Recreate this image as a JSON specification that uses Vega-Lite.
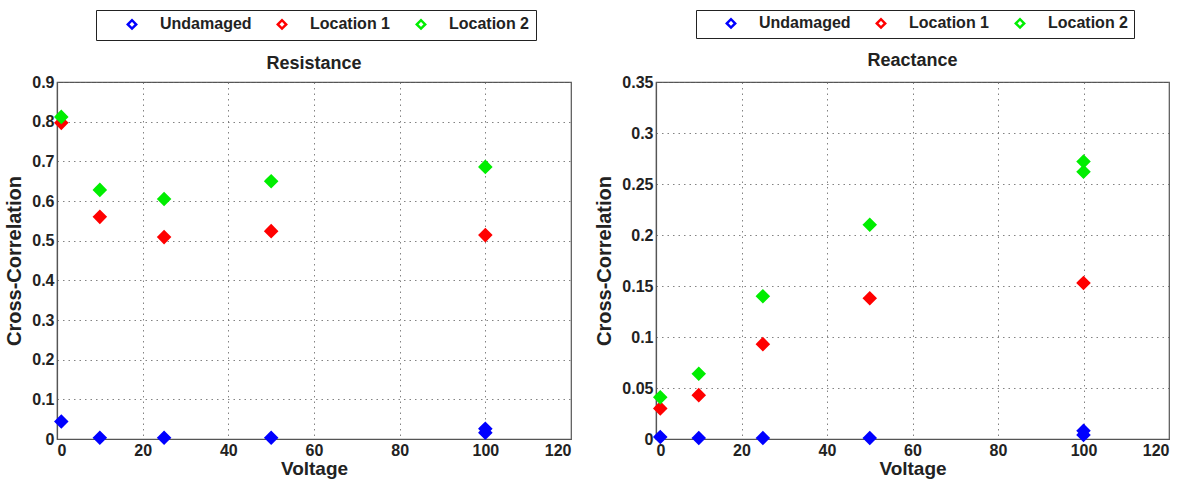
{
  "$schema": "https://vega.github.io/schema/vega-lite/v6.json",
  "background": "white",
  "padding": {"left": 4, "top": 8, "right": 2, "bottom": 2},
  "spacing": 22,
  "config": {
    "font": "Liberation Sans",
    "view": {"stroke": "#555555", "strokeWidth": 1.2},
    "axis": {
      "labelFont": "Liberation Sans",
      "labelFontWeight": "bold",
      "labelFontSize": 16,
      "labelColor": "#222222",
      "titleFont": "Liberation Sans",
      "titleFontWeight": "bold",
      "titleFontSize": 20,
      "titleColor": "#222222",
      "domainColor": "#555555",
      "domainWidth": 1.2,
      "ticks": false,
      "gridColor": "#666666",
      "gridDash": [1.5, 4],
      "gridWidth": 0.9,
      "gridOpacity": 0.9
    },
    "title": {"font": "Liberation Sans", "fontWeight": "bold", "fontSize": 18, "color": "#222222", "frame": "group", "anchor": "middle"}
  },
  "datasets": {
    "res": [
      {"voltage": 1, "series": "Undamaged", "cc": 0.044},
      {"voltage": 10, "series": "Undamaged", "cc": 0.003},
      {"voltage": 25, "series": "Undamaged", "cc": 0.003},
      {"voltage": 50, "series": "Undamaged", "cc": 0.003},
      {"voltage": 100, "series": "Undamaged", "cc": 0.016},
      {"voltage": 100, "series": "Undamaged", "cc": 0.026},
      {"voltage": 1, "series": "Location 1", "cc": 0.797},
      {"voltage": 10, "series": "Location 1", "cc": 0.56},
      {"voltage": 25, "series": "Location 1", "cc": 0.509},
      {"voltage": 50, "series": "Location 1", "cc": 0.524},
      {"voltage": 100, "series": "Location 1", "cc": 0.514},
      {"voltage": 1, "series": "Location 2", "cc": 0.812},
      {"voltage": 10, "series": "Location 2", "cc": 0.628},
      {"voltage": 25, "series": "Location 2", "cc": 0.605},
      {"voltage": 50, "series": "Location 2", "cc": 0.65},
      {"voltage": 100, "series": "Location 2", "cc": 0.686}
    ],
    "rea": [
      {"voltage": 1, "series": "Undamaged", "cc": 0.002},
      {"voltage": 10, "series": "Undamaged", "cc": 0.001},
      {"voltage": 25, "series": "Undamaged", "cc": 0.001},
      {"voltage": 50, "series": "Undamaged", "cc": 0.001},
      {"voltage": 100, "series": "Undamaged", "cc": 0.004},
      {"voltage": 100, "series": "Undamaged", "cc": 0.008},
      {"voltage": 1, "series": "Location 1", "cc": 0.03},
      {"voltage": 10, "series": "Location 1", "cc": 0.043},
      {"voltage": 25, "series": "Location 1", "cc": 0.093},
      {"voltage": 50, "series": "Location 1", "cc": 0.138},
      {"voltage": 100, "series": "Location 1", "cc": 0.153},
      {"voltage": 1, "series": "Location 2", "cc": 0.041},
      {"voltage": 10, "series": "Location 2", "cc": 0.064},
      {"voltage": 25, "series": "Location 2", "cc": 0.14},
      {"voltage": 50, "series": "Location 2", "cc": 0.21},
      {"voltage": 100, "series": "Location 2", "cc": 0.262},
      {"voltage": 100, "series": "Location 2", "cc": 0.272}
    ]
  },
  "hconcat": [
    {
      "title": {"text": "Resistance", "offset": -63},
      "width": 514,
      "height": 357,
      "data": {"name": "res"},
      "mark": {"type": "point", "shape": "diamond", "filled": false, "size": 52, "strokeWidth": 5.2, "opacity": 1},
      "encoding": {
        "x": {"field": "voltage", "type": "quantitative", "title": "Voltage", "scale": {"domain": [0, 120]}, "axis": {"values": [0, 20, 40, 60, 80, 100, 120], "labelPadding": 3, "titlePadding": 1, "titleFontSize": 19}},
        "y": {"field": "cc", "type": "quantitative", "title": "Cross-Correlation", "scale": {"domain": [0, 0.9]}, "axis": {"values": [0, 0.1, 0.2, 0.3, 0.4, 0.5, 0.6, 0.7, 0.8, 0.9], "format": "~g", "labelPadding": 3, "titlePadding": 7}},
        "color": {"field": "series", "type": "nominal", "scale": {"domain": ["Undamaged", "Location 1", "Location 2"], "range": ["#0000ff", "#ff0000", "#00ee00"]},
          "legend": {"orient": "none", "legendX": 39, "legendY": -72, "direction": "horizontal", "title": null, "strokeColor": "#222222", "padding": 6, "symbolSize": 70, "symbolStrokeWidth": 2.5, "labelFont": "Liberation Sans", "labelFontWeight": "bold", "labelFontSize": 16, "labelColor": "#222222", "labelOffset": 20, "columnPadding": 0, "symbolOffset": 22}}
      }
    },
    {
      "title": {"text": "Reactance", "offset": -60},
      "width": 513,
      "height": 357,
      "data": {"name": "rea"},
      "mark": {"type": "point", "shape": "diamond", "filled": false, "size": 52, "strokeWidth": 5.2, "opacity": 1},
      "encoding": {
        "x": {"field": "voltage", "type": "quantitative", "title": "Voltage", "scale": {"domain": [0, 120]}, "axis": {"values": [0, 20, 40, 60, 80, 100, 120], "labelPadding": 3, "titlePadding": 1, "titleFontSize": 19}},
        "y": {"field": "cc", "type": "quantitative", "title": "Cross-Correlation", "scale": {"domain": [0, 0.35]}, "axis": {"values": [0, 0.05, 0.1, 0.15, 0.2, 0.25, 0.3, 0.35], "format": "~g", "labelPadding": 3, "titlePadding": 7}},
        "color": {"field": "series", "type": "nominal", "scale": {"domain": ["Undamaged", "Location 1", "Location 2"], "range": ["#0000ff", "#ff0000", "#00ee00"]},
          "legend": {"orient": "none", "legendX": 40, "legendY": -72, "direction": "horizontal", "title": null, "strokeColor": "#222222", "padding": 5, "symbolSize": 70, "symbolStrokeWidth": 2.5, "labelFont": "Liberation Sans", "labelFontWeight": "bold", "labelFontSize": 16, "labelColor": "#222222", "labelOffset": 20, "columnPadding": 0, "symbolOffset": 22}}
      }
    }
  ],
  "resolve": {"legend": {"color": "independent"}, "scale": {"color": "independent"}}
}
